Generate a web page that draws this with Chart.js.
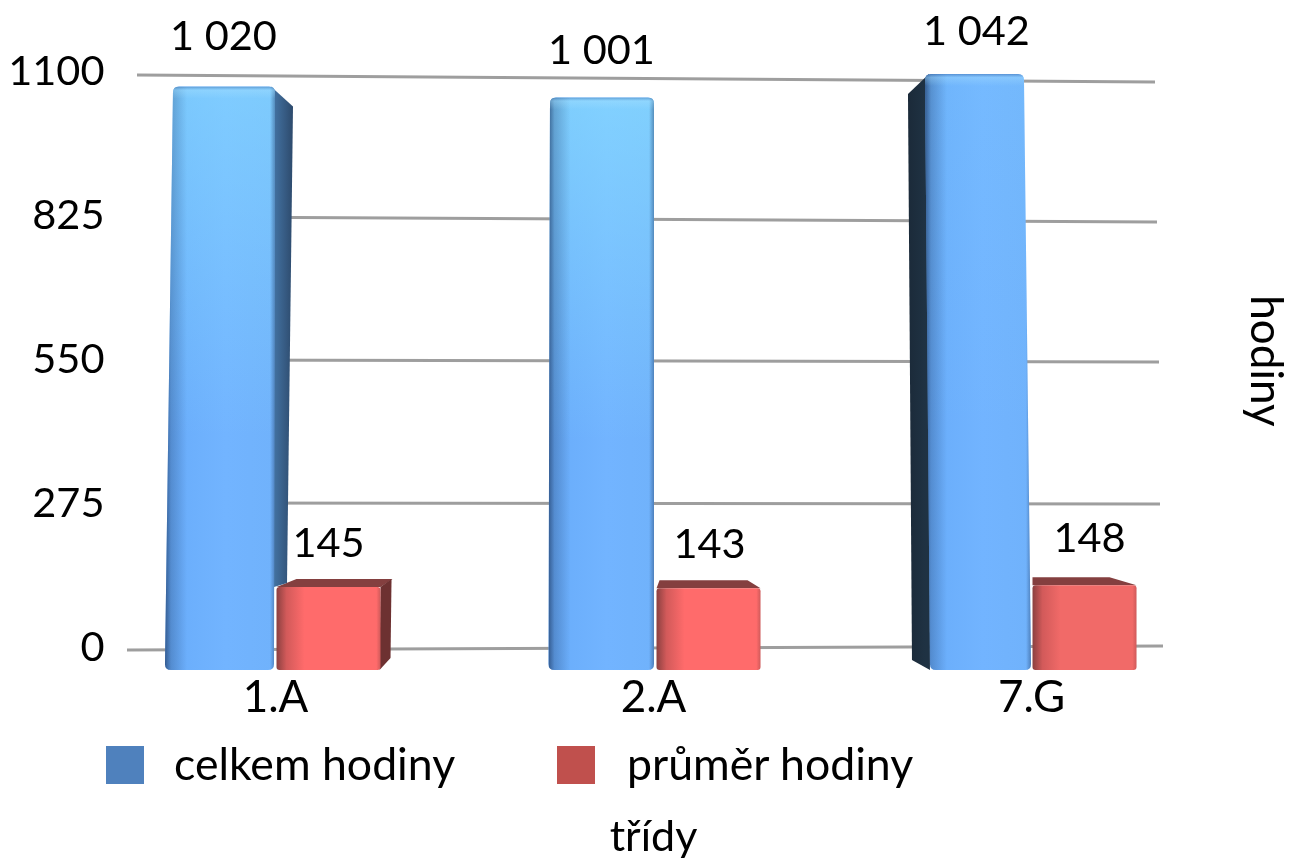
<!doctype html>
<html lang="cs">
    <head>
        <meta charset="UTF-8" />
        <title>Hodiny podle tříd</title>
        <script src="https://cdn.jsdelivr.net/npm/chart.js"></script>
        <style>
            body { margin: 0; background: #fff; }
            #wrap { position: relative; width: 1292px; height: 859px; overflow: hidden; }
            .legend-box { position: absolute; top: 746px; width: 38px; height: 38px; }
            .legend-text {
                position: absolute; top: 736px; line-height: 48px;
                font: 44.6px Lato, sans-serif; color: #000; white-space: nowrap;
            }
        </style>
    </head>
    <body>
        <div id="wrap">
            <canvas id="graf" width="1292" height="859"></canvas>
            <div class="legend-box" id="boxCelkem" style="left: 106px"></div>
            <div class="legend-text" id="textCelkem" style="left: 174px"></div>
            <div class="legend-box" id="boxPrumer" style="left: 557px"></div>
            <div class="legend-text" id="textPrumer" style="left: 627px"></div>
        </div>

        <script>
            const categories = ["1.A", "2.A", "7.G"];
            const celkemHodiny = [1020, 1001, 1042];
            const prumerHodiny = [145, 143, 148];
            const yTicks = [0, 275, 550, 825, 1100];

            const seriesNames = ["celkem hodiny", "průměr hodiny"];
            const legendColors = ["#4f81bd", "#c0504d"];
            const fontName = "Lato, sans-serif";

            // perspektiva sloupců: posun rohů [dole vlevo, dole vpravo, nahoře vlevo, nahoře vpravo]
            const blueLean = [
                [-5.5, -0.5, 2.5, 0.5],
                [0, 1.5, 1.5, 1.5],
                [3.5, 0.5, -1.5, -6.5],
            ];
            const blueSide = [[18, 13], [0, 0], [-17, -18]];
            const blueGlow = [0.5, 0.6, 0.12];
            const blueSideColors = [["#2d4a6c", "#42709f"], null, ["#1b2a39", "#1f3243"]];
            const redShift = [0, 2, 0];
            const redSide = [11, 0, 0];
            const redTopBack = [[20, 12], [3, -13], [0, -27]];
            const redBody = ["#ff6b6b", "#ff6b6b", "#f16a68"];

            // posuny popisků hodnot [x, y] po řadách a třídách
            const labelShiftX = [[1, 1, -2], [0, 3, 5]];
            const labelShiftY = [[-4, -1, 4], [3, 2, -1]];

            // mřížka je na zadní stěně, konce čar jsou mírně posunuté
            const gridStart = [127, 200, 200, 200, 137];
            const gridEnd = [1163, 1160, 1159, 1157, 1155];
            const gridDriftLeft = [2, -1, 0, 1, 3];
            const gridDriftRight = [-2, 0, 2, 6, 10];

            function formatValue(v) {
                if (v < 1000) return String(v);
                return Math.floor(v / 1000) + " " + String(v % 1000).padStart(3, "0");
            }

            function horizontalGradient(ctx, x0, x1, stops) {
                const g = ctx.createLinearGradient(x0, 0, x1, 0);
                stops.forEach((s) => g.addColorStop(s[0], s[1]));
                return g;
            }

            function frontPath(ctx, bl, br, tl, tr, top, base, r) {
                ctx.beginPath();
                ctx.moveTo(bl + r, base);
                ctx.quadraticCurveTo(bl, base, bl, base - r);
                ctx.lineTo(tl, top + r);
                ctx.quadraticCurveTo(tl, top, tl + r, top);
                ctx.lineTo(tr - r, top);
                ctx.quadraticCurveTo(tr, top, tr, top + r);
                ctx.lineTo(br, base - r);
                ctx.quadraticCurveTo(br, base, br - r, base);
                ctx.closePath();
            }

            function drawColumn(ctx, i, left, right, top, base, neighbourTop) {
                const lean = blueLean[i];
                const bl = left + lean[0];
                const br = right + lean[1];
                const tl = left + lean[2];
                const tr = right + lean[3];

                // boční stěna se zkoseným horním rohem
                const side = blueSide[i];
                if (side[0] > 0) {
                    // vpravo stěna končí na horní hraně červeného kvádru
                    ctx.fillStyle = horizontalGradient(ctx, tr + side[0], tr, [
                        [0, blueSideColors[i][0]],
                        [1, blueSideColors[i][1]],
                    ]);
                    ctx.beginPath();
                    ctx.moveTo(tr - 4, top);
                    ctx.lineTo(tr + side[0], top + 20);
                    ctx.lineTo(br + side[1], neighbourTop - 4);
                    ctx.lineTo(br, neighbourTop);
                    ctx.closePath();
                    ctx.fill();
                } else if (side[0] < 0) {
                    ctx.fillStyle = horizontalGradient(ctx, tl + side[0], tl, [
                        [0, blueSideColors[i][0]],
                        [1, blueSideColors[i][1]],
                    ]);
                    ctx.beginPath();
                    ctx.moveTo(tl + 4, top);
                    ctx.lineTo(tl + side[0], top + 20);
                    ctx.lineTo(bl + side[1], base - 10);
                    ctx.lineTo(bl, base);
                    ctx.closePath();
                    ctx.fill();
                }

                // přední stěna
                const x0 = Math.min(bl, tl);
                const x1 = Math.max(br, tr);
                frontPath(ctx, bl, br, tl, tr, top, base, 6);
                ctx.fillStyle = horizontalGradient(ctx, x0, x1, [
                    [0, "#68acfa"],
                    [0.55, "#72b4ff"],
                    [1, "#70b2fb"],
                ]);
                ctx.fill();

                ctx.save();
                ctx.clip();

                // horní část sloupce je světlejší
                const glow = ctx.createLinearGradient(0, top, 0, top + (base - top) * 0.6);
                glow.addColorStop(0, "rgba(140, 228, 255, " + blueGlow[i] + ")");
                glow.addColorStop(1, "rgba(140, 228, 255, 0)");
                ctx.fillStyle = glow;
                ctx.fillRect(x0, top, x1 - x0, base - top);

                // ztmavené okraje
                const w = x1 - x0;
                ctx.fillStyle = horizontalGradient(ctx, x0, x1, [
                    [0, "rgba(35, 65, 110, 0.75)"],
                    [6 / w, "rgba(35, 65, 110, 0.3)"],
                    [22 / w, "rgba(35, 65, 110, 0)"],
                    [1 - 5 / w, "rgba(35, 65, 110, 0)"],
                    [1, "rgba(35, 65, 110, 0.45)"],
                ]);
                ctx.fillRect(x0, top, w, base - top);

                // světlý pruh podél horní hrany
                const bevel = ctx.createLinearGradient(0, top, 0, top + 12);
                bevel.addColorStop(0, "rgba(50, 95, 160, 0.45)");
                bevel.addColorStop(0.3, "rgba(170, 225, 255, 0.35)");
                bevel.addColorStop(1, "rgba(170, 225, 255, 0)");
                ctx.fillStyle = bevel;
                ctx.fillRect(x0, top, w, 12);
                ctx.restore();
            }

            function drawBox(ctx, i, left, right, top, base) {
                const l = left + redShift[i];
                const r = right + redShift[i];
                const back = redTopBack[i];

                // horní stěna
                ctx.fillStyle = "#843f3f";
                ctx.beginPath();
                ctx.moveTo(l, top);
                ctx.lineTo(l + back[0], top - 8);
                ctx.lineTo(r + back[1], top - 8);
                ctx.lineTo(r, top);
                ctx.closePath();
                ctx.fill();

                // boční stěna
                if (redSide[i] > 0) {
                    ctx.fillStyle = "#6d3131";
                    ctx.beginPath();
                    ctx.moveTo(r, top);
                    ctx.lineTo(r + redSide[i], top - 8);
                    ctx.lineTo(r + redSide[i] - 1, base - 12);
                    ctx.lineTo(r - 1, base);
                    ctx.closePath();
                    ctx.fill();
                }

                const w = r - l;
                frontPath(ctx, l, r, l, r, top, base, 3);
                ctx.fillStyle = horizontalGradient(ctx, l, r, [
                    [0, "#8b4040"],
                    [10 / w, "#d25a5a"],
                    [28 / w, redBody[i]],
                    [0.96, redBody[i]],
                    [1, "#cf5a5a"],
                ]);
                ctx.fill();
            }

            // sloupec s bočními stěnami, rozměry bere z os jako běžný BarElement
            class Bar3dElement extends Chart.BarElement {
                static id = "bar3d";

                draw(ctx) {
                    const p = this.getProps(["x", "y", "base", "width"]);
                    const left = p.x - p.width / 2;
                    const right = p.x + p.width / 2;
                    ctx.save();
                    if (this.seriesIndex === 0) {
                        drawColumn(ctx, this.groupIndex, left, right, p.y, p.base, this.neighbourTop);
                    } else {
                        drawBox(ctx, this.groupIndex, left, right, p.y, p.base);
                    }
                    ctx.restore();
                }
            }

            class Bar3dController extends Chart.BarController {
                static id = "bar3d";
                static defaults = {
                    ...Chart.BarController.defaults,
                    dataElementType: "bar3d",
                };

                updateElements(bars, start, count, mode) {
                    super.updateElements(bars, start, count, mode);
                    const scale = this.chart.scales.yBars;
                    bars.forEach((bar, i) => {
                        bar.groupIndex = i;
                        bar.seriesIndex = this.index;
                        bar.neighbourTop = scale.getPixelForValue(prumerHodiny[i]);
                    });
                }
            }

            Chart.register(Bar3dElement, Bar3dController);

            const backWall = {
                id: "backWall",
                beforeDatasetsDraw(chart) {
                    const ctx = chart.ctx;
                    const scale = chart.scales.y;
                    ctx.save();
                    ctx.strokeStyle = "#9e9e9e";
                    ctx.lineWidth = 3;
                    yTicks.forEach((v, i) => {
                        const py = scale.getPixelForValue(v);
                        ctx.beginPath();
                        ctx.moveTo(gridStart[i], py + gridDriftLeft[i]);
                        ctx.lineTo(gridEnd[i], py + gridDriftRight[i]);
                        ctx.stroke();
                    });
                    ctx.restore();
                },
            };

            const valueLabels = {
                id: "valueLabels",
                afterDatasetsDraw(chart) {
                    const ctx = chart.ctx;
                    ctx.save();
                    ctx.font = "41.5px " + fontName;
                    ctx.fillStyle = "#000";
                    ctx.textAlign = "center";
                    ctx.textBaseline = "middle";
                    chart.data.datasets.forEach((ds, d) => {
                        chart.getDatasetMeta(d).data.forEach((bar, i) => {
                            ctx.fillText(
                                formatValue(ds.data[i]),
                                bar.x + labelShiftX[d][i],
                                bar.y - 46 + labelShiftY[d][i],
                            );
                        });
                    });
                    ctx.restore();
                },
            };

            new Chart(document.getElementById("graf").getContext("2d"), {
                type: "bar3d",
                data: {
                    labels: categories,
                    datasets: [
                        { label: seriesNames[0], data: celkemHodiny, yAxisID: "yBars" },
                        { label: seriesNames[1], data: prumerHodiny, yAxisID: "yBars" },
                    ],
                },
                options: {
                    responsive: false,
                    animation: false,
                    categoryPercentage: 0.561,
                    barPercentage: 0.981,
                    layout: { padding: { top: 52 } },
                    plugins: { legend: { display: false }, tooltip: { enabled: false } },
                    scales: {
                        x: {
                            type: "category",
                            offset: true,
                            grid: { display: false },
                            border: { display: false },
                            ticks: {
                                color: "#000",
                                padding: -2,
                                maxRotation: 0,
                                font: { family: fontName, size: 44, lineHeight: 1 },
                            },
                            title: {
                                display: true,
                                text: "třídy",
                                color: "#000",
                                padding: 0,
                                font: { family: fontName, size: 43, lineHeight: 1 },
                            },
                            afterFit(scale) {
                                scale.height = 189;
                            },
                        },
                        y: {
                            type: "linear",
                            position: "left",
                            min: -42,
                            max: 1138,
                            afterBuildTicks(scale) {
                                scale.ticks = yTicks.map((v) => ({ value: v }));
                            },
                            grid: { display: false, drawTicks: false },
                            border: { display: false },
                            ticks: {
                                color: "#000",
                                padding: -18,
                                autoSkip: false,
                                callback: (v) => String(v),
                                font: { family: fontName, size: 41.5, lineHeight: 1 },
                            },
                            afterFit(scale) {
                                scale.width = 86.5;
                                // popisky přesahují přes levý okraj grafu, nesmí se ořezat
                                scale._computeLabelArea = () => undefined;
                            },
                        },
                        // osa sloupců v přední rovině, má větší měřítko než zadní stěna
                        yBars: {
                            type: "linear",
                            position: "right",
                            min: 0,
                            max: 1080.4,
                            grid: { display: false, drawTicks: false },
                            border: { display: false },
                            ticks: { display: false },
                            title: {
                                display: true,
                                text: "hodiny",
                                color: "#000",
                                padding: { top: 5, bottom: 0 },
                                font: { family: fontName, size: 44, lineHeight: 1 },
                            },
                            afterFit(scale) {
                                scale.width = 71.5;
                            },
                        },
                    },
                },
                plugins: [backWall, valueLabels],
            });

            document.getElementById("boxCelkem").style.background = legendColors[0];
            document.getElementById("boxPrumer").style.background = legendColors[1];
            document.getElementById("textCelkem").textContent = seriesNames[0];
            document.getElementById("textPrumer").textContent = seriesNames[1];
        </script>
    </body>
</html>
